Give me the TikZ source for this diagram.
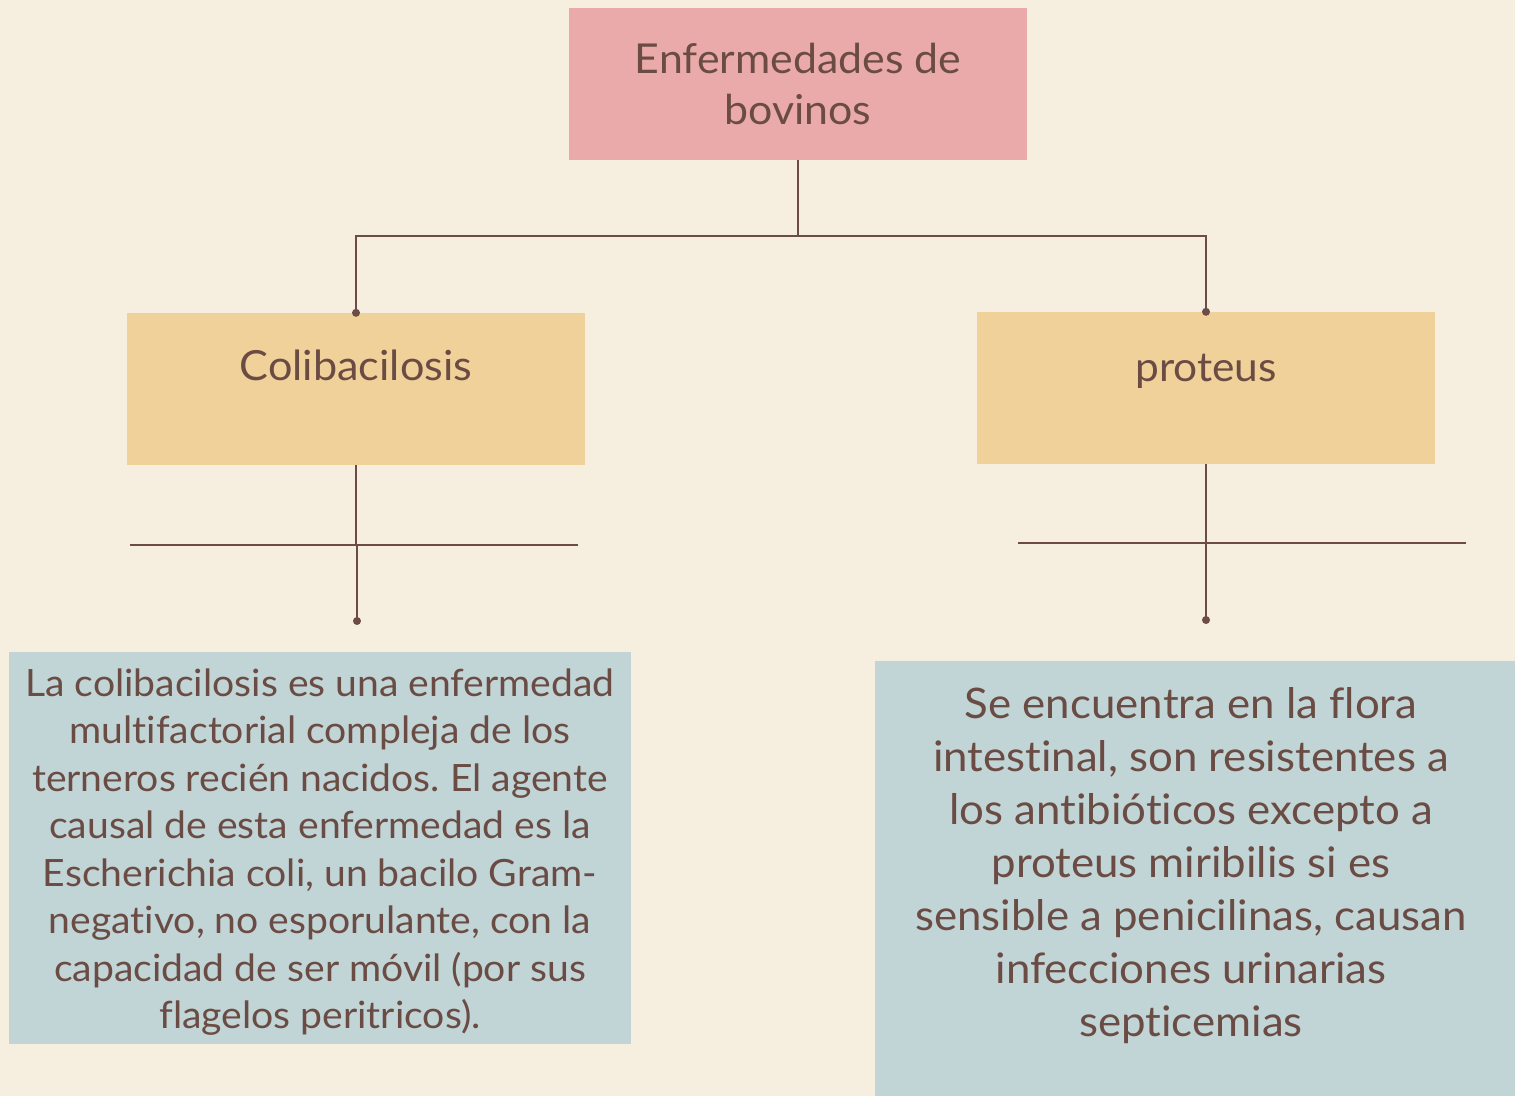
\documentclass[tikz,border=0pt]{standalone}
\usepackage{fontspec}
\setmainfont{Lato}[Ligatures=NoCommon, FakeStretch=1.04]
\frenchspacing
\definecolor{bg}{HTML}{F6EEDF}
\definecolor{pinkbox}{HTML}{EAAAA9}
\definecolor{yelbox}{HTML}{F0D199}
\definecolor{bluebox}{HTML}{C1D4D6}
\definecolor{txt}{HTML}{6B4C44}
\definecolor{ln}{HTML}{6D4C47}
\tikzset{
  box/.style={rectangle, inner sep=0pt, draw=none},
  lbl/.style={text=txt, inner sep=0pt, align=center},
  conn/.style={draw=ln, line width=2pt},
  dotc/.style={circle, fill=ln, inner sep=0pt, minimum size=8pt}
}
\begin{document}
\begin{tikzpicture}[x=1pt,y=-1pt]
\fill[bg] (0,0) rectangle (1515,1096);
\useasboundingbox (0,0) rectangle (1515,1096);
% boxes
\node[box, fill=pinkbox, minimum width=458pt, minimum height=152pt] (top) at (798,84) {};
\node[box, fill=yelbox, minimum width=458pt, minimum height=152pt] (colib) at (356,389) {};
\node[box, fill=yelbox, minimum width=458pt, minimum height=152pt] (prot) at (1206,388) {};
\node[box, fill=bluebox, minimum width=622pt, minimum height=392pt] (descL) at (320,848) {};
\node[box, fill=bluebox, minimum width=640pt, minimum height=435pt] (descR) at (1195,878.5) {};
% labels
\node[lbl, font=\fontsize{41.2}{51}\selectfont] (topt) at (798,84) {Enfermedades de\\bovinos};
\node[lbl, font=\fontsize{41.5}{51}\selectfont] (colibt) at (356,365) {Colibacilosis};
\node[lbl, font=\fontsize{40.8}{51}\selectfont] (prott) at (1206,371) {proteus};
\node[lbl, font=\fontsize{37.6}{47.5}\selectfont] (descLt) at (320,852) {La colibacilosis es una enfermedad\\multifactorial compleja de los\\terneros recién nacidos. El agente\\causal de esta enfermedad es la\\Escherichia coli, un bacilo Gram-\\negativo, no esporulante, con la\\capacidad de ser móvil (por sus\\flagelos peritricos).};
\node[lbl, font=\fontsize{42.1}{53}\selectfont] (descRt) at (1191,866) {Se encuentra en la flora\\intestinal, son resistentes a\\los antibióticos excepto a\\proteus miribilis si es\\sensible a penicilinas, causan\\infecciones urinarias\\septicemias};
% connector coordinates
\coordinate (j) at (798,236);
\coordinate (hL1) at (130,545);
\coordinate (hL2) at (578,545);
\coordinate (mL) at (356,545);
\coordinate (mL2) at (357,545);
\coordinate (dL) at (357,621);
\coordinate (hR1) at (1018,543);
\coordinate (hR2) at (1466,543);
\coordinate (dR) at (1206,620);
% connectors
\draw[conn] (top.south) -- (j);
\draw[conn] (j) -| (colib.north);
\draw[conn] (j) -| (prot.north);
\node[dotc] at (colib.north) {};
\node[dotc] at (prot.north) {};
\draw[conn] (colib.south) -- (mL);
\draw[conn] (hL1) -- (hL2);
\draw[conn] (mL2) -- (dL);
\node[dotc] at (dL) {};
\draw[conn] (hR1) -- (hR2);
\draw[conn] (prot.south) -- (dR);
\node[dotc] at (dR) {};
\end{tikzpicture}
\end{document}
